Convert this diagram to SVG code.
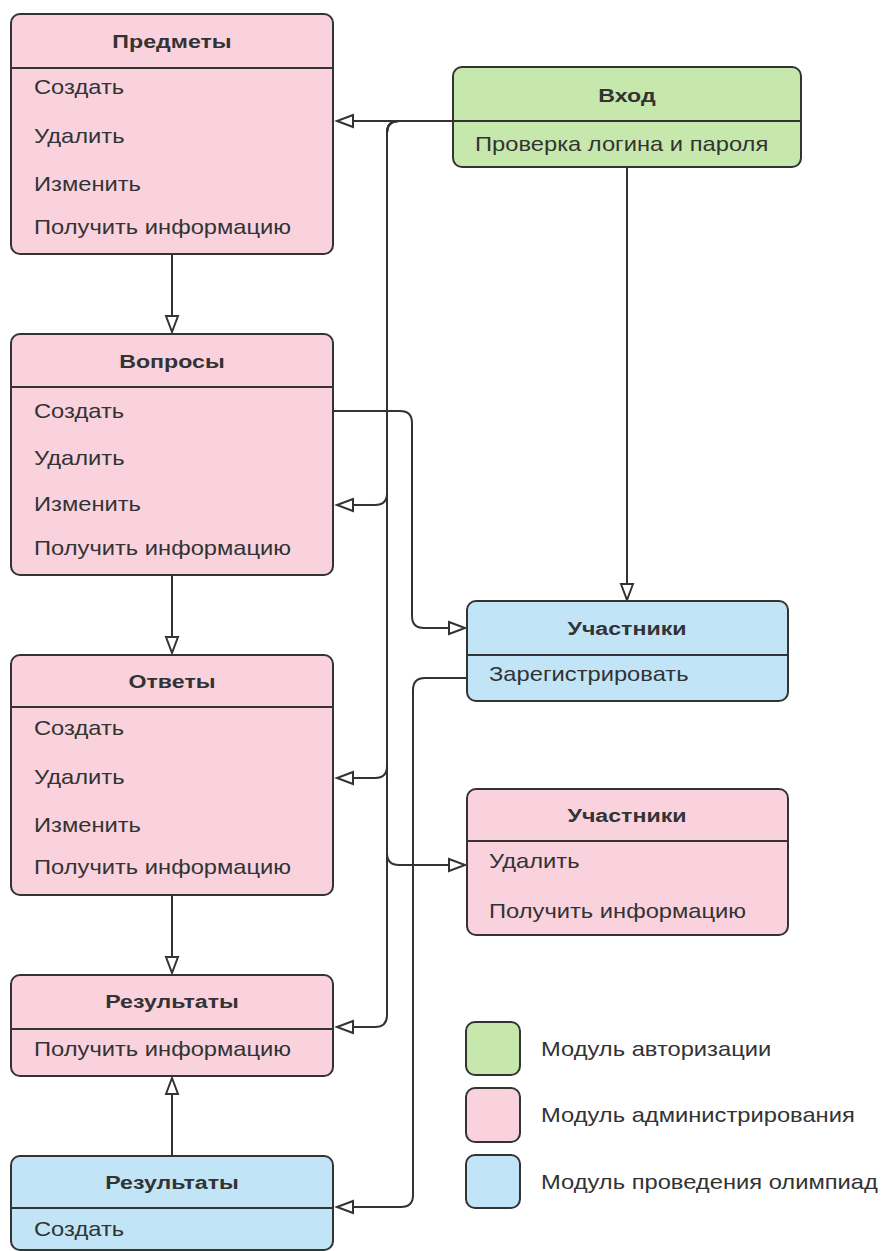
<svg xmlns="http://www.w3.org/2000/svg" width="883" height="1251" viewBox="0 0 883 1251">
<style>
.box{stroke:#333;stroke-width:2}
.pink{fill:#f9d2de}
.green{fill:#c7e8ac}
.blue{fill:#c1e4f7}
.div{stroke:#333;stroke-width:2}
.t{font-family:"Liberation Sans",Arial,sans-serif;font-size:19px;font-weight:bold;fill:#333;text-anchor:middle}
.b{font-family:"Liberation Sans",Arial,sans-serif;font-size:21px;fill:#333}
.c{fill:none;stroke:#333;stroke-width:2;marker-end:url(#arr)}
</style>
<defs>
<marker id="arr" markerUnits="userSpaceOnUse" markerWidth="22" markerHeight="18" refX="17" refY="7" orient="auto" overflow="visible">
<path d="M1,1 L17,7 L1,13 Z" fill="#fff" stroke="#333" stroke-width="2" stroke-linejoin="miter"/>
</marker>
</defs>
<rect width="883" height="1251" fill="#fff"/>
<g id="connectors">
<path class="c" d="M453,121 H337"/>
<path class="c" d="M453,121 H399 Q387,121 387,133 V493 Q387,505 375,505 H337"/>
<path class="c" d="M453,121 H399 Q387,121 387,133 V766 Q387,778 375,778 H337"/>
<path class="c" d="M453,121 H399 Q387,121 387,133 V1015 Q387,1027 375,1027 H337"/>
<path class="c" d="M453,121 H399 Q387,121 387,133 V853 Q387,865 399,865 H465"/>
<path class="c" d="M627,167 V600"/>
<path class="c" d="M333,411 H400 Q412,411 412,423 V616 Q412,628 424,628 H465"/>
<path class="c" d="M467,678 H425 Q413,678 413,690 V1195 Q413,1207 401,1207 H337"/>
<path class="c" d="M172,254 V332"/>
<path class="c" d="M172,575 V653"/>
<path class="c" d="M172,895 V973"/>
<path class="c" d="M172,1156 V1078"/>
</g>
<g id="predmety">
<rect class="box pink" x="11" y="14" width="322" height="240" rx="9"/>
<line class="div" x1="11" y1="68" x2="333" y2="68"/>
<text class="t" transform="translate(172,48) scale(1.22,1)">Предметы</text>
<text class="b" transform="translate(34,94) scale(1.13,1)">Создать</text>
<text class="b" transform="translate(34,143) scale(1.13,1)">Удалить</text>
<text class="b" transform="translate(34,191) scale(1.13,1)">Изменить</text>
<text class="b" transform="translate(34,234) scale(1.13,1)">Получить информацию</text>
</g>
<g id="vhod">
<rect class="box green" x="453" y="67" width="348" height="100" rx="9"/>
<line class="div" x1="453" y1="121" x2="801" y2="121"/>
<text class="t" transform="translate(627,102) scale(1.22,1)">Вход</text>
<text class="b" transform="translate(475,151) scale(1.13,1)">Проверка логина и пароля</text>
</g>
<g id="voprosy">
<rect class="box pink" x="11" y="334" width="322" height="241" rx="9"/>
<line class="div" x1="11" y1="387" x2="333" y2="387"/>
<text class="t" transform="translate(172,368) scale(1.22,1)">Вопросы</text>
<text class="b" transform="translate(34,418) scale(1.13,1)">Создать</text>
<text class="b" transform="translate(34,465) scale(1.13,1)">Удалить</text>
<text class="b" transform="translate(34,511) scale(1.13,1)">Изменить</text>
<text class="b" transform="translate(34,555) scale(1.13,1)">Получить информацию</text>
</g>
<g id="otvety">
<rect class="box pink" x="11" y="655" width="322" height="240" rx="9"/>
<line class="div" x1="11" y1="707" x2="333" y2="707"/>
<text class="t" transform="translate(172,688) scale(1.22,1)">Ответы</text>
<text class="b" transform="translate(34,735) scale(1.13,1)">Создать</text>
<text class="b" transform="translate(34,784) scale(1.13,1)">Удалить</text>
<text class="b" transform="translate(34,832) scale(1.13,1)">Изменить</text>
<text class="b" transform="translate(34,874) scale(1.13,1)">Получить информацию</text>
</g>
<g id="rezultaty-admin">
<rect class="box pink" x="11" y="975" width="322" height="101" rx="9"/>
<line class="div" x1="11" y1="1029" x2="333" y2="1029"/>
<text class="t" transform="translate(172,1008) scale(1.22,1)">Результаты</text>
<text class="b" transform="translate(34,1056) scale(1.13,1)">Получить информацию</text>
</g>
<g id="rezultaty-olymp">
<rect class="box blue" x="11" y="1156" width="322" height="94" rx="9"/>
<line class="div" x1="11" y1="1208" x2="333" y2="1208"/>
<text class="t" transform="translate(172,1189) scale(1.22,1)">Результаты</text>
<text class="b" transform="translate(34,1236) scale(1.13,1)">Создать</text>
</g>
<g id="uchastniki-olymp">
<rect class="box blue" x="467" y="601" width="321" height="100" rx="9"/>
<line class="div" x1="467" y1="655" x2="788" y2="655"/>
<text class="t" transform="translate(627,635) scale(1.22,1)">Участники</text>
<text class="b" transform="translate(489,681) scale(1.13,1)">Зарегистрировать</text>
</g>
<g id="uchastniki-admin">
<rect class="box pink" x="467" y="789" width="321" height="146" rx="9"/>
<line class="div" x1="467" y1="841" x2="788" y2="841"/>
<text class="t" transform="translate(627,822) scale(1.22,1)">Участники</text>
<text class="b" transform="translate(489,868) scale(1.13,1)">Удалить</text>
<text class="b" transform="translate(489,918) scale(1.13,1)">Получить информацию</text>
</g>
<g id="legend">
<rect class="box green" x="466" y="1022" width="54" height="53" rx="9"/>
<rect class="box pink" x="466" y="1088" width="54" height="54" rx="9"/>
<rect class="box blue" x="466" y="1155" width="54" height="53" rx="9"/>
<text class="b" transform="translate(541,1056) scale(1.13,1)">Модуль авторизации</text>
<text class="b" transform="translate(541,1122) scale(1.13,1)">Модуль администрирования</text>
<text class="b" transform="translate(541,1189) scale(1.13,1)">Модуль проведения олимпиад</text>
</g>
</svg>
